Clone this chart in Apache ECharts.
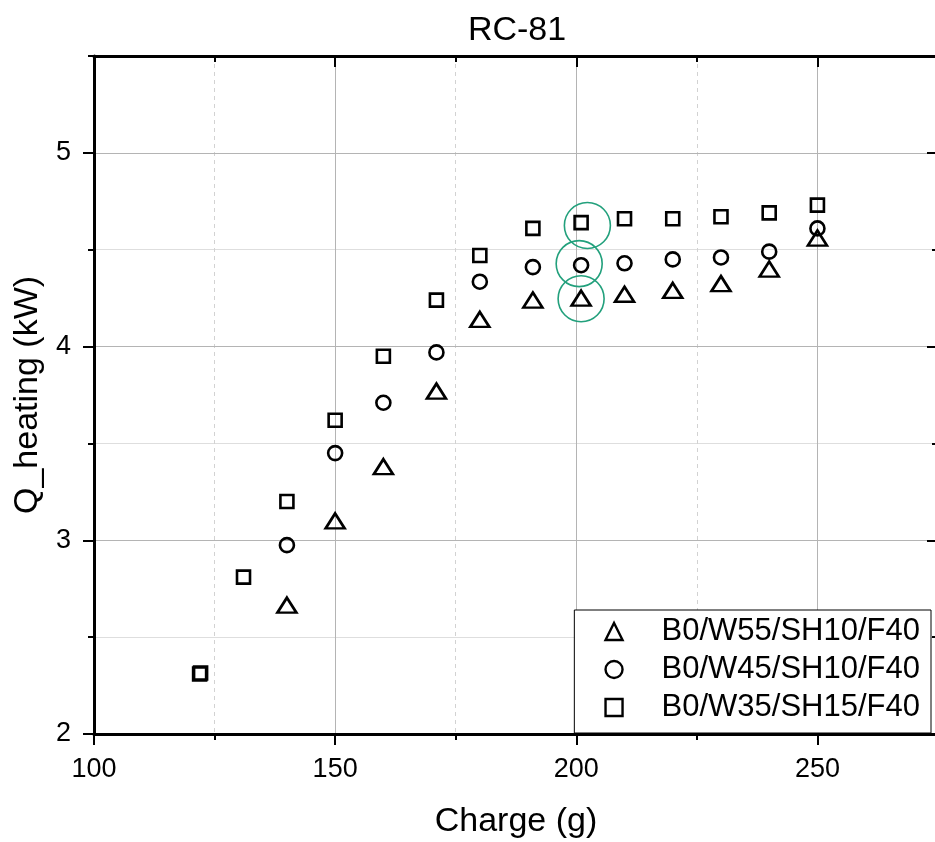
<!DOCTYPE html>
<html>
<head>
<meta charset="utf-8">
<script src="https://cdn.jsdelivr.net/npm/echarts@6/dist/echarts.min.js"></script>
<style>html,body{margin:0;padding:0;background:#fff;}#c{width:935px;height:842px;}</style>
</head>
<body>
<div id="c"></div>
<script>
var titleText = 'RC-81';
var xName = 'Charge (g)';
var yName = 'Q_heating (kW)';
var seriesNames = ['B0/W55/SH10/F40', 'B0/W45/SH10/F40', 'B0/W35/SH15/F40'];

var xTicksMajor = [100, 150, 200, 250];
var xTicksMinor = [125, 175, 225, 275];
var yTicksMajor = [2, 3, 4, 5];
var yTicksMinor = [2.5, 3.5, 4.5, 5.5];

var chargeW55 = [140, 150, 160, 171, 180, 191, 201, 210, 220, 230, 240, 250];
var qW55      = [2.665, 3.10, 3.38, 3.77, 4.14, 4.24, 4.25, 4.27, 4.29, 4.325, 4.40, 4.56];

var chargeW45 = [140, 150, 160, 171, 180, 191, 201, 210, 220, 230, 240, 250];
var qW45      = [2.975, 3.45, 3.71, 3.97, 4.335, 4.41, 4.42, 4.43, 4.45, 4.46, 4.49, 4.61];

var chargeW35 = [121.9, 122.1, 131, 140, 150, 160, 171, 180, 191, 201, 210, 220, 230, 240, 250];
var qW35      = [2.31, 2.315, 2.81, 3.20, 3.62, 3.95, 4.24, 4.47, 4.61, 4.64, 4.66, 4.66, 4.67, 4.69, 4.73];

var highlightCharge = [202.3, 200.6, 201];
var highlightQ      = [4.625, 4.428, 4.247];

function zip(a, b) { return a.map(function (v, i) { return [v, b[i]]; }); }

var FONT = '"Liberation Sans", Arial, sans-serif';
function hollow() {
  return { color: 'rgba(0,0,0,0)', borderColor: '#000', borderWidth: 2.6, opacity: 1 };
}

var chart = echarts.init(document.getElementById('c'), null, { renderer: 'canvas' });

function xAx(opt) {
  return Object.assign({
    type: 'value', min: 100, max: 275, interval: 25,
    axisLine: { show: false }, axisLabel: { show: false }, splitLine: { show: false },
    axisTick: { show: true }
  }, opt);
}
function yAx(opt) {
  return Object.assign({
    type: 'value', min: 2, max: 5.5, interval: 0.5,
    axisLine: { show: false }, axisLabel: { show: false }, splitLine: { show: false },
    axisTick: { show: true }
  }, opt);
}

var option = {
  animation: false,
  backgroundColor: '#fff',
  textStyle: { fontFamily: FONT },
  title: {
    text: titleText, left: 512, top: 9, textAlign: 'center',
    textStyle: { fontSize: 34, fontWeight: 'normal', color: '#000', fontFamily: FONT }
  },
  grid: { left: 94, right: -3, top: 56, bottom: 108, containLabel: false, outerBoundsMode: 'none' },
  legend: {
    data: seriesNames, orient: 'vertical', right: 4, top: 610,
    itemWidth: 17, itemHeight: 17, itemGap: 7,
    padding: [6, 11, 10, 30],
    symbolKeepAspect: true,
    itemStyle: { borderWidth: 2.4 },
    borderColor: '#000', borderWidth: 1, borderRadius: 0, backgroundColor: '#fff',
    textStyle: { fontSize: 31, color: '#000', fontFamily: FONT, padding: [0, 0, 0, 34] },
    selectedMode: false, z: 20
  },
  xAxis: [
    xAx({ position: 'bottom', z: 1,
      axisTick: { show: true, inside: false, length: 6, customValues: xTicksMinor, lineStyle: { color: '#000', width: 2 } },
      splitLine: { show: true, lineStyle: { color: '#d2d2d2', width: 1, type: [4, 4] } }
    }),
    xAx({ position: 'bottom', z: 2, interval: 50,
      name: xName, nameLocation: 'middle', nameGap: 71,
      nameTextStyle: { fontSize: 34, color: '#000', fontFamily: FONT },
      axisLine: { show: true, onZero: false, lineStyle: { color: '#000', width: 3 } },
      axisTick: { show: true, inside: false, length: 11, customValues: xTicksMajor, lineStyle: { color: '#000', width: 2 } },
      axisLabel: { show: true, customValues: xTicksMajor, fontSize: 27, margin: 22, color: '#000', fontFamily: FONT },
      splitLine: { show: true, lineStyle: { color: '#b4b4b4', width: 1 } }
    }),
    xAx({ position: 'top', z: 2,
      axisTick: { show: true, inside: true, length: 6, customValues: xTicksMinor, lineStyle: { color: '#000', width: 2 } }
    }),
    xAx({ position: 'top', z: 2, interval: 50,
      axisLine: { show: true, onZero: false, lineStyle: { color: '#000', width: 3 } },
      axisTick: { show: true, inside: true, length: 11, customValues: xTicksMajor, lineStyle: { color: '#000', width: 2 } }
    })
  ],
  yAxis: [
    yAx({ position: 'left', z: 1,
      axisTick: { show: true, inside: false, length: 6, customValues: yTicksMinor, lineStyle: { color: '#000', width: 2 } },
      splitLine: { show: true, lineStyle: { color: '#dedede', width: 1 } }
    }),
    yAx({ position: 'left', z: 2, interval: 1,
      name: yName, nameLocation: 'middle', nameGap: 43, nameRotate: 90,
      nameTextStyle: { fontSize: 34, color: '#000', fontFamily: FONT },
      axisLine: { show: true, onZero: false, lineStyle: { color: '#000', width: 3 } },
      axisTick: { show: true, inside: false, length: 11, customValues: yTicksMajor, lineStyle: { color: '#000', width: 2 } },
      axisLabel: { show: true, customValues: yTicksMajor, fontSize: 27, margin: 23, color: '#000', fontFamily: FONT },
      splitLine: { show: true, lineStyle: { color: '#b4b4b4', width: 1 } }
    }),
    yAx({ position: 'right', z: 2,
      axisTick: { show: true, inside: true, length: 6, customValues: yTicksMinor, lineStyle: { color: '#000', width: 2 } }
    }),
    yAx({ position: 'right', z: 2, interval: 1,
      axisLine: { show: true, onZero: false, lineStyle: { color: '#000', width: 3 } },
      axisTick: { show: true, inside: true, length: 11, customValues: yTicksMajor, lineStyle: { color: '#000', width: 2 } }
    })
  ],
  series: [
    { name: seriesNames[0], type: 'scatter', xAxisIndex: 1, yAxisIndex: 1,
      symbol: 'triangle', symbolSize: [19, 15], itemStyle: hollow(),
      emphasis: { disabled: true }, data: zip(chargeW55, qW55), z: 5 },
    { name: seriesNames[1], type: 'scatter', xAxisIndex: 1, yAxisIndex: 1,
      symbol: 'circle', symbolSize: 14, itemStyle: hollow(),
      emphasis: { disabled: true }, data: zip(chargeW45, qW45), z: 5 },
    { name: seriesNames[2], type: 'scatter', xAxisIndex: 1, yAxisIndex: 1,
      symbol: 'rect', symbolSize: 13, itemStyle: hollow(),
      emphasis: { disabled: true }, data: zip(chargeW35, qW35), z: 5 },
    { name: 'highlight', type: 'scatter', xAxisIndex: 1, yAxisIndex: 1,
      symbol: 'circle', symbolSize: 46, silent: true,
      itemStyle: { color: 'rgba(0,0,0,0)', borderColor: '#22a07c', borderWidth: 1.6, opacity: 1 },
      emphasis: { disabled: true }, data: zip(highlightCharge, highlightQ), z: 4 }
  ]
};
chart.setOption(option);
</script>
</body>
</html>
